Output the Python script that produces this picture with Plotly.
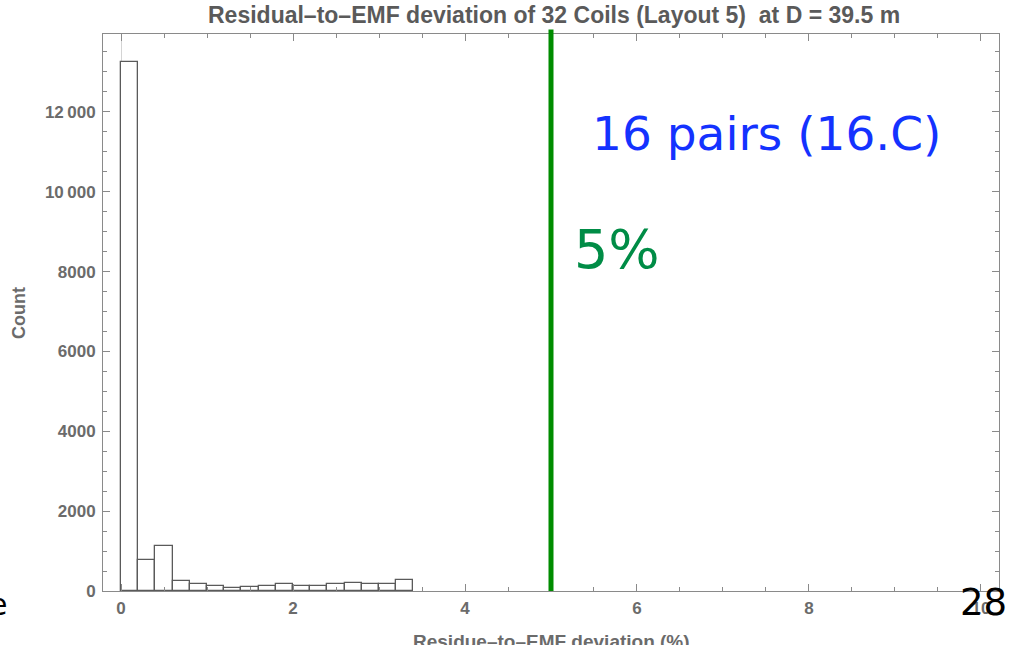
import plotly.graph_objects as go

# ---- data ----
bin_left = [0.0, 0.2, 0.4, 0.6, 0.8, 1.0, 1.2, 1.4, 1.6, 1.8, 2.0, 2.2, 2.4, 2.6, 2.8, 3.0, 3.2]
bin_width = 0.2
counts = [13250, 770, 1130, 250, 165, 125, 75, 90, 130, 170, 120, 120, 165, 210, 165, 165, 285]

x_tickvals = [0, 2, 4, 6, 8, 10]
x_ticktext = ["0", "2", "4", "6", "8", "10"]
y_tickvals = [0, 2000, 4000, 6000, 8000, 10000, 12000]
y_ticktext = ["0", "2000", "4000", "6000", "8000", "10\u2009000", "12\u2009000"]
threshold = 5

title_text = "Residual\u2013to\u2013EMF deviation of 32 Coils (Layout 5)  at D = 39.5 m"
xlabel = "Residue\u2013to\u2013EMF deviation (%)"
ylabel = "Count"

# ---- figure geometry ----
W, H = 1011, 645
L, R, T, B = 103, 12, 34, 54
PW, PH = W - L - R, H - T - B


def px(xp):
    return (xp - L) / PW


def py(yp):
    return (H - B - yp) / PH


centers = [b + bin_width / 2 for b in bin_left]

fig = go.Figure()
fig.add_trace(go.Bar(
    x=centers, y=counts, width=bin_width,
    marker=dict(color="white", line=dict(color="#5a5a5a", width=1.3)),
    hoverinfo="x+y", showlegend=False,
))

frame = "#8a8a8a"
tickfont = dict(family="Liberation Sans", size=17, color="#6b6b6b")

fig.update_xaxes(
    range=[-0.21, 10.21], tickvals=x_tickvals,
    ticktext=["<b>" + t + "</b>" for t in x_ticktext],
    ticks="inside", ticklen=7, tickcolor=frame, tickwidth=1,
    minor=dict(ticks="inside", ticklen=4, dtick=0.5, tick0=0, tickcolor=frame, showgrid=False),
    showline=True, linecolor=frame, linewidth=1, mirror="allticks",
    showgrid=False, zeroline=True, zerolinecolor="#d4d4d4", zerolinewidth=1,
    tickfont=tickfont, ticklabelstandoff=2,
)
fig.update_yaxes(
    range=[0, 13950], tickvals=y_tickvals,
    ticktext=["<b>" + t + "</b>" for t in y_ticktext],
    ticks="inside", ticklen=7, tickcolor=frame, tickwidth=1,
    minor=dict(ticks="inside", ticklen=4, dtick=500, tick0=0, tickcolor=frame, showgrid=False),
    showline=True, linecolor=frame, linewidth=1, mirror="allticks",
    showgrid=False, zeroline=False,
    tickfont=tickfont, ticklabelstandoff=3,
)

# threshold line
fig.add_shape(type="line", xref="x", yref="paper", x0=threshold, x1=threshold,
              y0=0, y1=1.008, line=dict(color="rgb(0,140,0)", width=5))

annots = [
    dict(text="<b>" + title_text + "</b>", x=px(554), y=py(15), size=23, color="#5a5a5a",
         family="Liberation Sans", angle=0),
    dict(text="<b>" + xlabel + "</b>", x=px(551), y=py(641), size=19, color="#6b6b6b",
         family="Liberation Sans", angle=0),
    dict(text="<b>" + ylabel + "</b>", x=px(19), y=py(313), size=18, color="#6b6b6b",
         family="Liberation Sans", angle=-90),
    dict(text="16 pairs (16.C)", x=px(766), y=py(133), size=47, color="rgb(20,50,255)",
         family="DejaVu Sans", angle=0),
    dict(text="5%", x=px(617), y=py(249), size=54, color="rgb(0,140,70)",
         family="DejaVu Sans", angle=0),
    dict(text="28", x=px(983), y=py(602), size=37, color="black",
         family="DejaVu Sans", angle=0),
]
for a in annots:
    fig.add_annotation(text=a["text"], xref="paper", yref="paper", x=a["x"], y=a["y"],
                       xanchor="center", yanchor="middle", showarrow=False, textangle=a["angle"],
                       font=dict(family=a["family"], size=a["size"], color=a["color"]))
fig.add_annotation(text="e", xref="paper", yref="paper", x=px(9), y=py(604),
                   xanchor="right", yanchor="middle", showarrow=False,
                   font=dict(family="DejaVu Sans", size=30, color="black"))

fig.update_layout(
    width=W, height=H, margin=dict(l=L, r=R, t=T, b=B),
    paper_bgcolor="white", plot_bgcolor="white",
    bargap=0, showlegend=False,
)

fig.write_html("out.html", config={"displayModeBar": False},
               post_script="document.body.style.margin='0';document.body.style.overflow='hidden';")
